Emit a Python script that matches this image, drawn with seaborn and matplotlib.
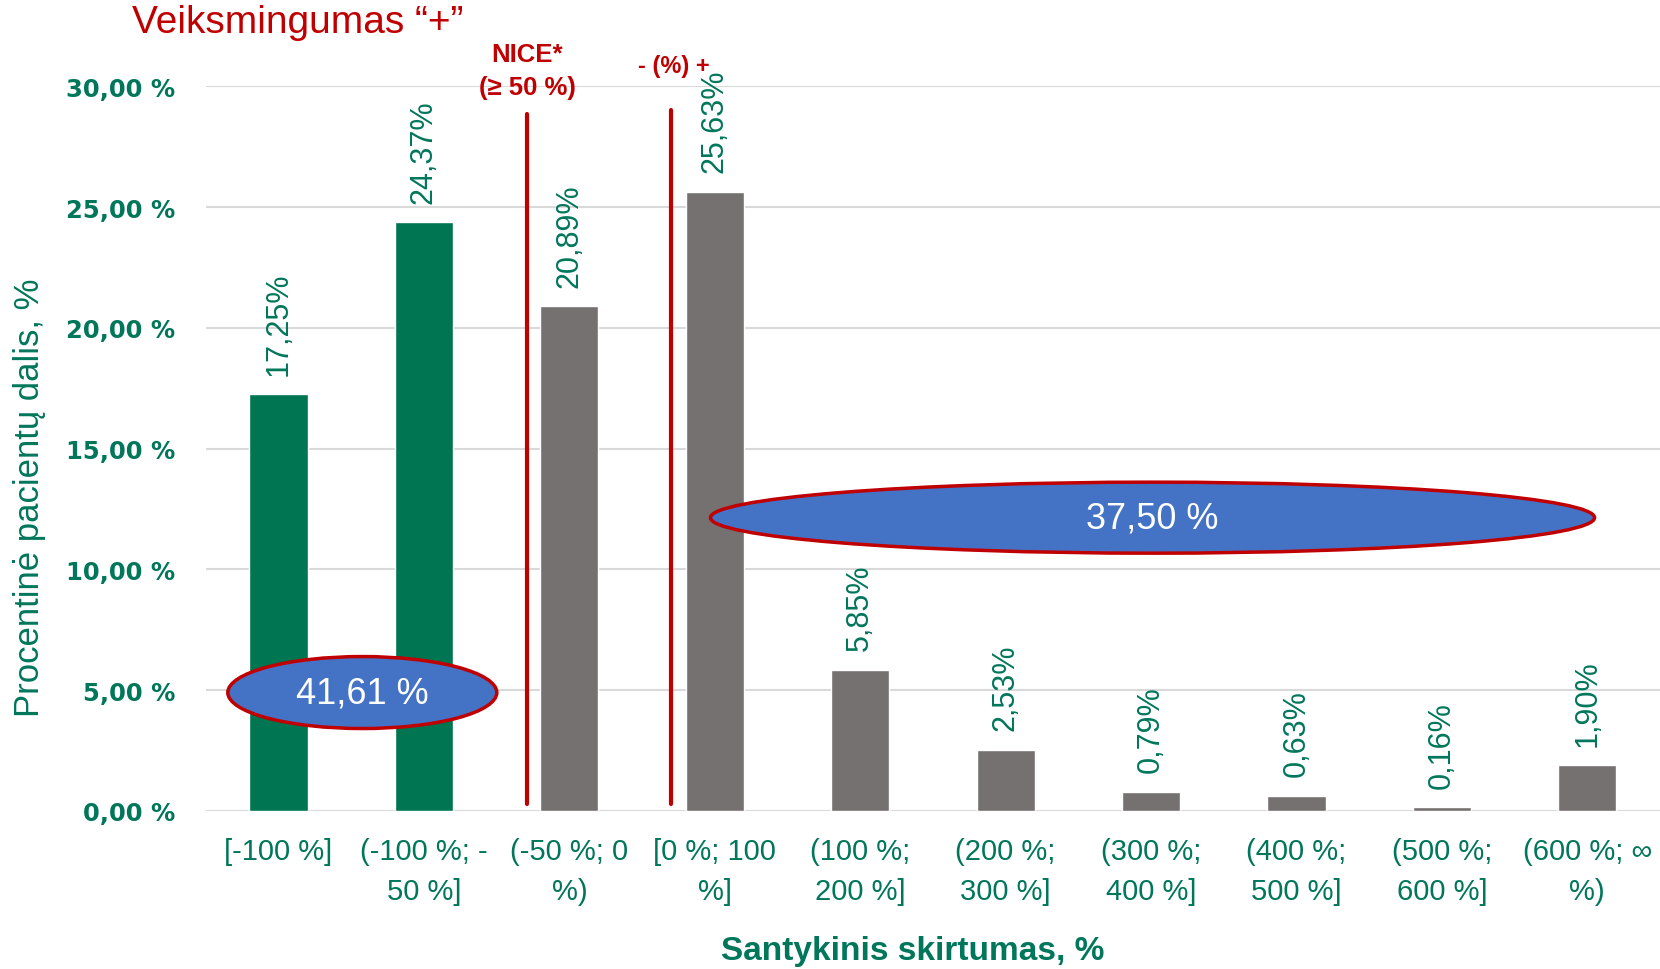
import matplotlib
matplotlib.use("Agg")
import matplotlib.pyplot as plt
import seaborn as sns
import pandas as pd
from matplotlib.patches import Ellipse

categories = ["[-100 %]", "(-100 %; -\n50 %]", "(-50 %; 0\n%)", "[0 %; 100\n%]",
              "(100 %;\n200 %]", "(200 %;\n300 %]", "(300 %;\n400 %]",
              "(400 %;\n500 %]", "(500 %;\n600 %]", "(600 %; ∞\n%)"]
values = [17.25, 24.37, 20.89, 25.63, 5.85, 2.53, 0.79, 0.63, 0.16, 1.90]
groups = ["resp", "resp", "other", "other", "other", "other", "other", "other", "other", "other"]
value_labels = ["17,25%", "24,37%", "20,89%", "25,63%", "5,85%", "2,53%",
                "0,79%", "0,63%", "0,16%", "1,90%"]
yticks = [0, 5, 10, 15, 20, 25, 30]
ytick_labels = ["0,00 %", "5,00 %", "10,00 %", "15,00 %", "20,00 %", "25,00 %", "30,00 %"]

GREEN = "#007552"
GRAY = "#767171"
RED = "#C00000"
BLUE = "#4472C4"
TXT = "#00765A"

df = pd.DataFrame({"cat": categories, "val": values, "grp": groups})

sns.set_style("white")
sans = ["Liberation Sans", "DejaVu Sans"]

fig = plt.figure(figsize=(16.6, 9.7), dpi=100)
ax = fig.add_axes([0.124, 0.163, 0.876, 0.747])

sns.barplot(data=df, x="cat", y="val", hue="grp", palette={"resp": GREEN, "other": GRAY},
            width=0.4, dodge=False, legend=False, saturation=1, ax=ax, zorder=3)

ax.set_ylim(0, 30)
ax.set_xlim(-0.5, 9.5)
ax.set_yticks(yticks)
ax.set_yticklabels(ytick_labels, fontsize=17.5, fontweight="bold", color=TXT, family="DejaVu Sans")
ax.tick_params(axis="y", length=0, pad=22)
ax.tick_params(axis="x", length=0, pad=19)
for lbl in ax.get_xticklabels():
    lbl.set_fontsize(21)
    lbl.set_color(TXT)
    lbl.set_family(sans)
    lbl.set_linespacing(1.55)
ax.yaxis.grid(True, color="#D9D9D9", lw=1.5, zorder=0)
for s in ax.spines.values():
    s.set_visible(False)

ax.set_xlabel("Santykinis skirtumas, %", fontsize=24, color=TXT, family=sans,
              fontweight="bold", va="center")
ax.xaxis.set_label_coords(0.486, -0.192)
ax.set_ylabel("Procentinė pacientų dalis, %", fontsize=25, color=TXT, family=sans, va="center")
ax.yaxis.set_label_coords(-0.121, 0.434)

# value labels
for i, (v, t) in enumerate(zip(values, value_labels)):
    ax.annotate(t, (i, v), xytext=(0, 14), textcoords="offset points", rotation=90,
                ha="center", va="bottom", fontsize=22, color=TXT, clip_on=False,
                family=sans)

# red threshold lines
ax.plot([1.71, 1.71], [0.3, 28.85], color=RED, lw=3, zorder=4, clip_on=False)
ax.plot([2.70, 2.70], [0.3, 29.0], color=RED, lw=3, zorder=4, clip_on=False)
ax.text(1.71, 30.66, "NICE*\n(≥ 50 %)", ha="center", va="center", fontsize=18.5,
        color=RED, fontweight="bold", family=sans, linespacing=1.45)
ax.text(2.72, 30.88, "- (%) +", ha="center", va="center", fontsize=17,
        color=RED, fontweight="bold", family=sans)

# ellipses
ax.add_patch(Ellipse((0.576, 4.9), 1.85, 2.98, facecolor=BLUE, edgecolor=RED, lw=2.5, zorder=5))
ax.text(0.576, 4.9, "41,61 %", ha="center", va="center", fontsize=26, color="white",
        family=sans, zorder=6)
ax.add_patch(Ellipse((6.01, 12.14), 6.08, 2.94, facecolor=BLUE, edgecolor=RED, lw=2.5, zorder=5))
ax.text(6.01, 12.14, "37,50 %", ha="center", va="center", fontsize=26, color="white",
        family=sans, zorder=6)

fig.text(0.0795, 0.976, "Veiksmingumas “+”", ha="left", va="center", fontsize=28,
         color=RED, family=sans)

fig.savefig("out.png", dpi=100)
